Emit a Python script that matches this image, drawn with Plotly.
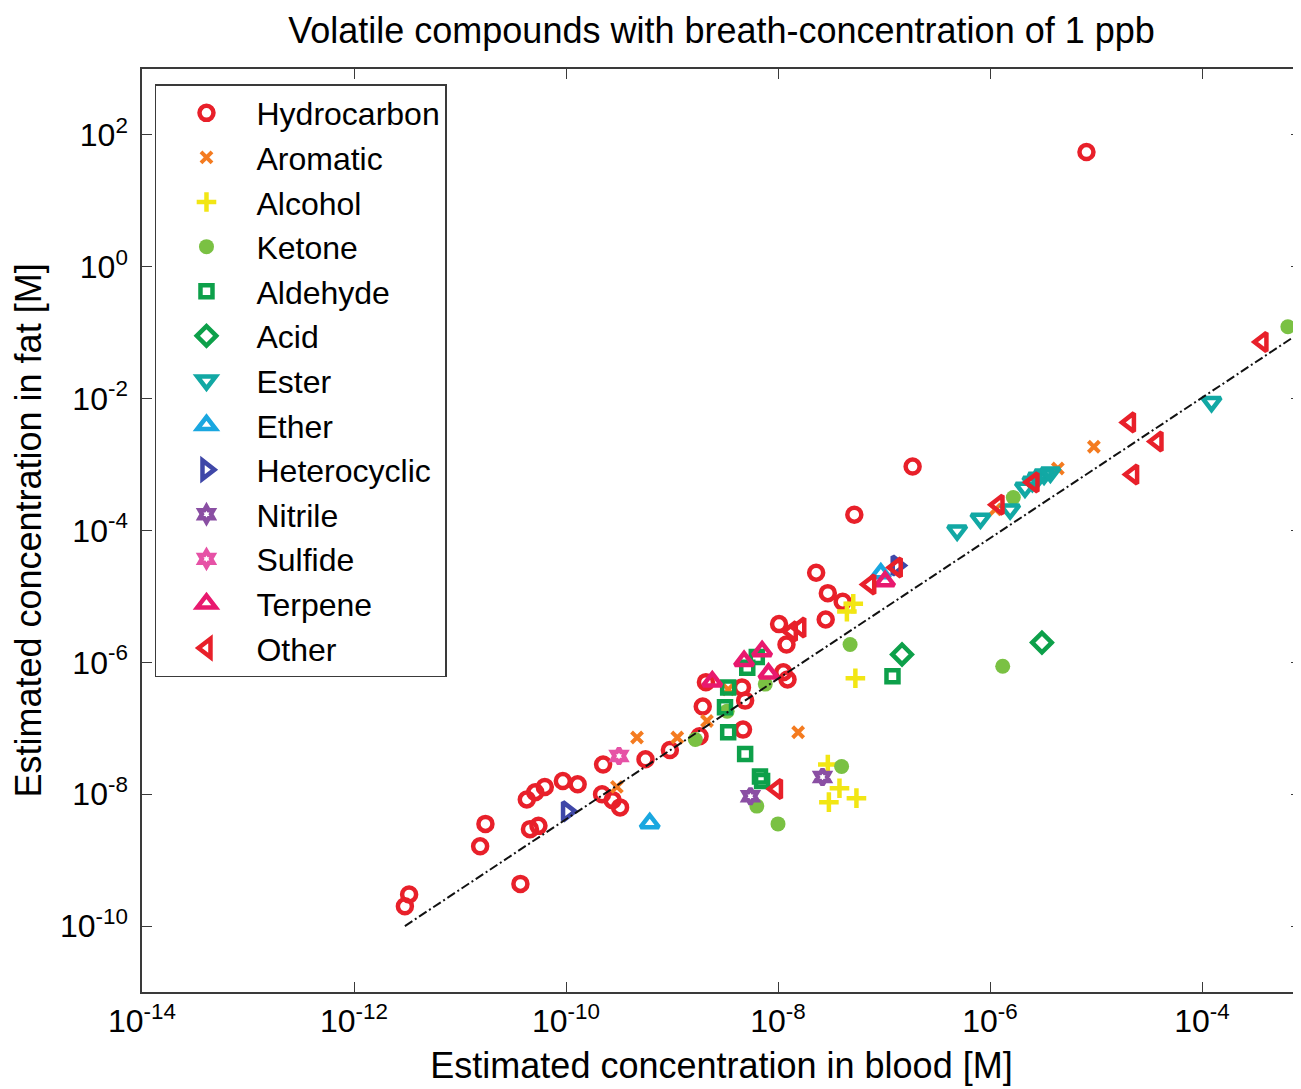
import plotly.graph_objects as go

# log10 values: (blood [M], fat [M])
hydro_lx = [-5.09, -6.73, -7.28, -7.64, -7.53, -7.39, -7.55, -7.99, -7.92, -7.95, -7.91, -8.34,
            -8.31, -8.68, -8.71, -8.33, -8.74, -9.02, -9.25, -9.65, -9.66, -9.56, -9.49, -9.89,
            -10.03, -10.20, -10.29, -10.37, -10.34, -10.26, -10.76, -10.81, -10.43, -11.48, -11.52]
hydro_ly = [1.74, -3.03, -3.76, -4.64, -4.95, -5.08, -5.35, -5.42, -5.73, -6.15, -6.26, -6.38,
            -6.58, -6.30, -6.67, -7.02, -7.12, -7.33, -7.47, -7.55, -8.00, -8.09, -8.20, -7.85,
            -7.80, -7.89, -7.97, -8.08, -8.53, -8.48, -8.45, -8.79, -9.36, -9.52, -9.70]

arom_lx = [-9.33, -8.95, -8.67, -9.52, -7.81, -8.47, -5.36, -5.02, -5.95]
arom_ly = [-7.14, -7.14, -6.89, -7.89, -7.06, -6.41, -3.06, -2.73, -3.68]

alc_lx = [-7.53, -7.42, -7.26, -7.52, -7.27, -7.35, -7.29]
alc_ly = [-7.55, -7.91, -8.06, -8.12, -6.24, -5.23, -5.11]

ket_lx = [-7.32, -8.78, -8.12, -8.48, -8.20, -8.00, -7.40, -5.88, -5.78, -3.19]
ket_ly = [-5.73, -7.17, -6.33, -6.74, -8.18, -8.45, -7.58, -6.06, -3.50, -0.91]

ald_lx = [-8.47, -8.50, -8.47, -8.31, -8.17, -8.15, -6.92, -8.29, -8.20]
ald_ly = [-6.38, -6.68, -7.06, -7.39, -7.73, -7.80, -6.21, -6.08, -5.92]

acid_lx = [-6.83, -5.51]
acid_ly = [-5.88, -5.70]

ester_lx = [-6.31, -6.09, -5.81, -5.67, -5.60, -5.55, -5.49, -5.43, -3.91]
ester_ly = [-4.00, -3.82, -3.68, -3.35, -3.26, -3.20, -3.15, -3.12, -2.05]

ether_lx = [-9.21, -7.03]
ether_ly = [-8.44, -4.65]

hetero_lx = [-9.99, -6.88]
hetero_ly = [-8.26, -4.53]

nitrile_lx = [-7.58, -8.26]
nitrile_ly = [-7.74, -8.03]

sulf_lx = [-9.50]
sulf_ly = [-7.42]

terp_lx = [-8.62, -8.32, -8.15, -8.09, -6.99]
terp_ly = [-6.29, -5.98, -5.83, -6.17, -4.77]

other_lx = [-8.01, -7.87, -7.79, -7.13, -6.88, -5.92, -5.59, -4.68, -4.42, -4.65, -3.43]
other_ly = [-7.92, -5.53, -5.47, -4.82, -4.56, -3.61, -3.27, -2.36, -2.65, -3.15, -1.14]

fit_lx = [-11.52, -3.0]
fit_ly = [-10.0, -0.92]

x_tickvals = [-14, -12, -10, -8, -6, -4]
y_tickvals = [2, 0, -2, -4, -6, -8, -10]

series = [
    ("Hydrocarbon", hydro_lx, hydro_ly, "circle-open", "#E8202A", 14, 4.5),
    ("Aromatic", arom_lx, arom_ly, "x-thin-open", "#F47B20", 11, 4),
    ("Alcohol", alc_lx, alc_ly, "cross-thin-open", "#F2E614", 14, 4.5),
    ("Ketone", ket_lx, ket_ly, "circle", "#7AC143", 15, 0),
    ("Aldehyde", ald_lx, ald_ly, "square-open", "#0DA04A", 12, 4.5),
    ("Acid", acid_lx, acid_ly, "diamond-open", "#0DA04A", 15, 4.5),
    ("Ester", ester_lx, ester_ly, "triangle-down-open", "#12A8A4", 16, 4.5),
    ("Ether", ether_lx, ether_ly, "triangle-up-open", "#1AA7E0", 16, 4.5),
    ("Heterocyclic", hetero_lx, hetero_ly, "triangle-right-open", "#3F47A8", 16, 4.5),
    ("Nitrile", nitrile_lx, nitrile_ly, "hexagram-open", "#8A4FA3", 12, 4.5),
    ("Sulfide", sulf_lx, sulf_ly, "hexagram-open", "#E652A6", 12, 4.5),
    ("Terpene", terp_lx, terp_ly, "triangle-up-open", "#E8196E", 16, 4.5),
    ("Other", other_lx, other_ly, "triangle-left-open", "#E8202A", 16, 4.5),
]

fig = go.Figure()
for name, lx, ly, sym, col, size, lw in series:
    fig.add_trace(go.Scatter(
        x=[10 ** v for v in lx], y=[10 ** v for v in ly], mode="markers", name=name,
        marker=dict(symbol=sym, size=size, color=col, line=dict(color=col, width=lw)),
    ))

fig.add_trace(go.Scatter(
    x=[10 ** v for v in fit_lx], y=[10 ** v for v in fit_ly], mode="lines",
    line=dict(color="#111111", width=2, dash="9px,3px,2px,3px"), showlegend=False,
))

FONT = "Liberation Sans, Arial, sans-serif"


def pow_label(e):
    return "10<sup>%d</sup>" % e


axis_common = dict(
    type="log", showgrid=False, zeroline=False, showline=True, linecolor="#3a3a3a",
    linewidth=1.5, mirror="ticks", ticks="inside", ticklen=10, tickcolor="#3a3a3a",
    tickwidth=1.2, automargin=False, tickfont=dict(family=FONT, size=32, color="black"),
)
# the page body adds an 8px offset, so the figure is 8px smaller than the window
fig.update_layout(
    width=1293, height=1081,
    margin=dict(l=134, r=0, t=61, b=97),
    paper_bgcolor="white", plot_bgcolor="white",
    title=dict(text="Volatile compounds with breath-concentration of 1 ppb",
               x=0.5, xref="paper", y=0.9796, yref="container", yanchor="middle",
               font=dict(family=FONT, size=36, color="black"), automargin=False),
    xaxis=dict(range=[-14, -3.066], tickvals=[10 ** v for v in x_tickvals],
               ticktext=[pow_label(v) for v in x_tickvals],
               title=dict(text="Estimated concentration in blood [M]",
                          font=dict(family=FONT, size=36, color="black"), standoff=15),
               **axis_common),
    yaxis=dict(range=[-11, 3], tickvals=[10 ** v for v in y_tickvals],
               ticktext=[pow_label(v) for v in y_tickvals], ticklabelstandoff=6,
               title=dict(text="Estimated concentration in fat [M]",
                          font=dict(family=FONT, size=36, color="black"), standoff=8),
               **axis_common),
    legend=dict(x=0.0112, y=0.9837, xanchor="left", yanchor="top",
                bordercolor="#3a3a3a", borderwidth=1.5, bgcolor="white",
                font=dict(family=FONT, size=32, color="black"), itemwidth=90),
)

fig.write_html("out.html")
